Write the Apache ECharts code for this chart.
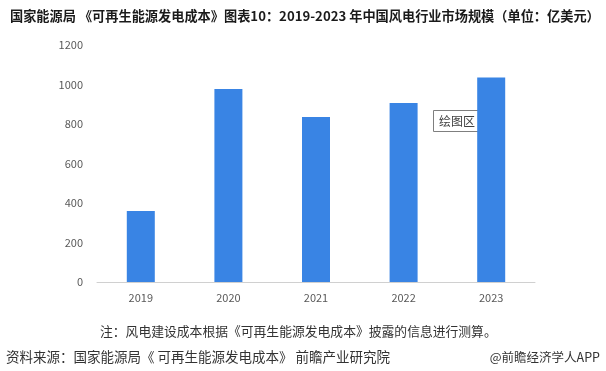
<!DOCTYPE html>
<html><head><meta charset="utf-8">
<script src="https://cdn.jsdelivr.net/npm/echarts@6/dist/echarts.min.js"></script>
<style>html,body{margin:0;padding:0;background:#fff;}#c{width:606px;height:371px;}</style>
</head><body><div id="c"></div>
<script>
const categories = ['2019','2020','2021','2022','2023'];
const values = [360, 977, 835, 906, 1036];
const yTicks = [0, 200, 400, 600, 800, 1000, 1200];
const titleText = '国家能源局 《可再生能源发电成本》图表10：2019-2023 年中国风电行业市场规模（单位：亿美元）';
const noteText = '注：风电建设成本根据《可再生能源发电成本》披露的信息进行测算。';
const sourceText = '资料来源：国家能源局《 可再生能源发电成本》 前瞻产业研究院';
const brandText = '@前瞻经济学人APP';
const plotAreaLabel = '绘图区';

const font = '"Noto Sans CJK SC", "Noto Sans", sans-serif';
const chart = echarts.init(document.getElementById('c'), null, {renderer: 'canvas'});
chart.setOption({
  animation: false,
  backgroundColor: '#fff',
  textStyle: {fontFamily: font},
  title: {
    text: titleText, left: 5, top: 4,
    textStyle: {fontSize: 13.2, fontWeight: 'bold', color: '#1a1a1a', fontFamily: font}
  },
  grid: {left: 97, right: 71, top: 45, bottom: 89},
  xAxis: {
    type: 'category', data: categories,
    axisLine: {lineStyle: {color: '#d0d0d0', width: 1}},
    axisTick: {show: false},
    axisLabel: {color: '#595959', fontSize: 11, margin: 10, fontFamily: font}
  },
  yAxis: {
    type: 'value', min: yTicks[0], max: yTicks[yTicks.length-1], interval: 200,
    axisLine: {show: false}, axisTick: {show: false},
    splitLine: {show: false},
    axisLabel: {color: '#595959', fontSize: 11, margin: 14, fontFamily: font,
      formatter: v => String(v)}
  },
  series: [{
    type: 'bar', data: values, barWidth: 28,
    itemStyle: {color: '#3984E4'}
  }],
  graphic: [
    {type: 'group', left: 433, top: 110, children: [
      {type: 'rect', shape: {x: 0, y: 0, width: 47, height: 21},
       style: {fill: '#fff', stroke: '#7f7f7f', lineWidth: 1}},
      {type: 'text', x: 23.5, y: 10.5,
       style: {text: plotAreaLabel, fill: '#404040', font: '12px ' + font, align: 'center', verticalAlign: 'middle'}}
    ]},
    {type: 'text', left: 100, top: 325,
     style: {text: noteText, fill: '#333', font: '12.8px ' + font}},
    {type: 'text', left: 6, top: 350,
     style: {text: sourceText, fill: '#333', font: '13.5px ' + font}},
    {type: 'text', right: 6, top: 351,
     style: {text: brandText, fill: '#333', font: '12.5px ' + font}}
  ]
});
</script></body></html>
